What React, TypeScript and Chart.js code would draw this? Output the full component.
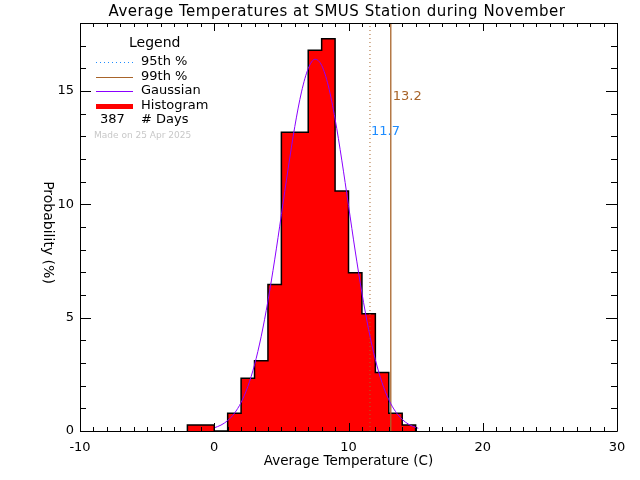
import React, { useEffect, useRef } from "react";
import { Chart, registerables } from "chart.js";

Chart.register(...registerables);

const TITLE = "Average Temperatures at SMUS Station during November";
const X_LABEL = "Average Temperature (C)";
const Y_LABEL = "Probability (%)";

// Histogram bins (left edges) and probability (%) per 1-degree bin
const BIN_LEFT = [-2, -1, 0, 1, 2, 3, 4, 5, 6, 7, 8, 9, 10, 11, 12, 13, 14];
const BIN_WIDTH = 1;
const HIST_VALUES = [0.26, 0.26, 0, 0.78, 2.33, 3.1, 6.46, 13.18, 13.18, 16.8, 17.31, 10.59, 6.98, 5.17, 2.58, 0.78, 0.26];

// Gaussian fit curve
const GAUSS_X = [0, 0.5, 1, 1.5, 2, 2.5, 3, 3.5, 4, 4.5, 5, 5.5, 6, 6.5, 7, 7.5, 8, 8.5, 9, 9.5, 10, 10.5, 11, 11.5, 12, 12.5, 13, 13.5, 14, 14.5, 15, 15.2];
const GAUSS_Y = [0.14, 0.26, 0.46, 0.78, 1.26, 1.96, 2.92, 4.18, 5.74, 7.55, 9.54, 11.56, 13.43, 14.96, 15.99, 16.4, 16.13, 15.22, 13.77, 11.95, 9.95, 7.94, 6.09, 4.47, 3.15, 2.13, 1.38, 0.86, 0.51, 0.29, 0.16, 0.12];

// Percentiles
const P95_POS = 11.6;
const P95_TEXT = "11.7";
const P99_POS = 13.15;
const P99_TEXT = "13.2";
const N_DAYS = "387";
const MADE_ON = "Made on 25 Apr 2025";

const X_TICK_LABELS = [-10, 0, 10, 20, 30];
const Y_TICK_LABELS = [0, 5, 10, 15];

const X_MIN = -10;
const X_MAX = 30;
const Y_MIN = 0;
const Y_MAX = 18;

const FONT = "'DejaVu Sans', sans-serif";
const BROWN = "#a8642a";
const BLUE = "#1e8cff";
const PURPLE = "#8a00ff";

export default function App() {
  const ref = useRef<HTMLCanvasElement | null>(null);

  useEffect(() => {
    const canvas = ref.current;
    if (!canvas) return;

    const histPoints: { x: number; y: number }[] = [{ x: BIN_LEFT[0], y: 0 }];
    BIN_LEFT.forEach((x, i) => histPoints.push({ x, y: HIST_VALUES[i] }));
    const lastEdge = BIN_LEFT[BIN_LEFT.length - 1] + BIN_WIDTH;
    histPoints.push({ x: lastEdge, y: HIST_VALUES[HIST_VALUES.length - 1] });
    histPoints.push({ x: lastEdge, y: 0 });

    const gauss = GAUSS_X.map((x, i) => ({ x, y: GAUSS_Y[i] }));

    const decor = {
      id: "decor",
      afterDraw(chart: any) {
        const ctx = chart.ctx as CanvasRenderingContext2D;
        const area = chart.chartArea;
        const xs = chart.scales.x;
        const ys = chart.scales.y;
        ctx.save();
        // frame
        ctx.strokeStyle = "#000";
        ctx.lineWidth = 1;
        ctx.beginPath();
        ctx.rect(Math.round(area.left) + 0.5, Math.round(area.top) + 0.5, Math.round(area.right - area.left), Math.round(area.bottom - area.top));
        ctx.stroke();
        // ticks (inward, all four sides)
        ctx.beginPath();
        for (let v = X_MIN; v <= X_MAX; v += 1) {
          const px = Math.round(xs.getPixelForValue(v)) + 0.5;
          const len = X_TICK_LABELS.includes(v) ? 8 : 4;
          ctx.moveTo(px, area.bottom);
          ctx.lineTo(px, area.bottom - len);
          ctx.moveTo(px, area.top);
          ctx.lineTo(px, area.top + len);
        }
        for (let v = Y_MIN; v <= Y_MAX; v += 1) {
          const py = Math.round(ys.getPixelForValue(v)) + 0.5;
          const len = Y_TICK_LABELS.includes(v) ? 11 : 6;
          ctx.moveTo(area.left, py);
          ctx.lineTo(area.left + len, py);
          ctx.moveTo(area.right, py);
          ctx.lineTo(area.right - len, py);
        }
        ctx.stroke();

        // title
        ctx.fillStyle = "#000";
        ctx.font = `15px ${FONT}`;
        (ctx as any).letterSpacing = "0.5px";
        ctx.textAlign = "center";
        ctx.textBaseline = "middle";
        ctx.fillText(TITLE, 337, 12);
        (ctx as any).letterSpacing = "0px";

        // y axis title (reads top to bottom)
        ctx.save();
        ctx.translate(47.5, 232.5);
        ctx.rotate(Math.PI / 2);
        ctx.font = `14px ${FONT}`;
        ctx.fillText(Y_LABEL, 0, 0);
        ctx.restore();

        // percentile labels
        ctx.textAlign = "left";
        ctx.font = `13px ${FONT}`;
        ctx.fillStyle = BROWN;
        ctx.fillText(P99_TEXT, xs.getPixelForValue(P99_POS) + 2, 97);
        ctx.fillStyle = BLUE;
        ctx.fillText(P95_TEXT, xs.getPixelForValue(P95_POS) + 1, 132);

        // legend
        ctx.fillStyle = "#000";
        ctx.font = `14px ${FONT}`;
        ctx.fillText("Legend", 129, 43);
        ctx.font = `13px ${FONT}`;
        const lx0 = 96;
        const lx1 = 133;
        const tx = 141;
        // 95th (dotted)
        ctx.fillStyle = BLUE;
        for (let px = lx0; px < lx1; px += 4) ctx.fillRect(px, 62, 1, 1);
        ctx.fillStyle = "#000";
        ctx.fillText("95th %", tx, 62);
        // 99th
        ctx.fillStyle = BROWN;
        ctx.fillRect(lx0, 77, lx1 - lx0, 1);
        ctx.fillStyle = "#000";
        ctx.fillText("99th %", tx, 77);
        // gaussian
        ctx.fillStyle = PURPLE;
        ctx.fillRect(lx0, 91, lx1 - lx0, 1);
        ctx.fillStyle = "#000";
        ctx.fillText("Gaussian", tx, 91);
        // histogram
        ctx.fillStyle = "#ff0000";
        ctx.fillRect(lx0, 104, lx1 - lx0, 5);
        ctx.fillStyle = "#000";
        ctx.fillText("Histogram", tx, 106);
        // days
        ctx.fillText(N_DAYS, 100, 120);
        ctx.fillText("# Days", tx, 120);
        ctx.fillStyle = "#c8c8c8";
        ctx.font = `9px ${FONT}`;
        ctx.fillText(MADE_ON, 94, 136);
        ctx.restore();
      },
    };

    const chart = new Chart(canvas, {
      type: "line",
      data: {
        datasets: [
          {
            label: "Histogram",
            data: histPoints,
            stepped: "before",
            borderColor: "#000",
            borderWidth: 1.5,
            backgroundColor: "#ff0000",
            fill: "origin",
            pointRadius: 0,
            order: 5,
          },
          {
            label: "Gaussian",
            data: gauss,
            borderColor: PURPLE,
            borderWidth: 1,
            cubicInterpolationMode: "monotone",
            fill: false,
            pointRadius: 0,
            order: 1,
          },
          {
            label: "95th %",
            data: [
              { x: P95_POS, y: Y_MIN },
              { x: P95_POS, y: Y_MAX },
            ],
            borderColor: BROWN,
            borderWidth: 1,
            borderDash: [1, 3],
            fill: false,
            pointRadius: 0,
            order: 2,
          },
          {
            label: "99th %",
            data: [
              { x: P99_POS, y: Y_MIN },
              { x: P99_POS, y: Y_MAX },
            ],
            borderColor: BROWN,
            borderWidth: 1.3,
            fill: false,
            pointRadius: 0,
            order: 2,
          },
        ],
      },
      options: {
        responsive: false,
        animation: false,
        devicePixelRatio: 1,
        layout: { padding: { top: 23, right: 23, left: 0, bottom: 0 } },
        plugins: {
          legend: { display: false },
          title: { display: false },
          tooltip: { enabled: false },
        },
        scales: {
          x: {
            type: "linear",
            min: X_MIN,
            max: X_MAX,
            grid: { display: false, drawTicks: false },
            border: { display: false },
            ticks: {
              stepSize: 1,
              autoSkip: false,
              maxRotation: 0,
              padding: 9,
              color: "#000",
              font: { family: FONT, size: 13 },
              callback: (v: any) => (X_TICK_LABELS.includes(Number(v)) ? String(v) : ""),
            },
            title: {
              display: true,
              text: X_LABEL,
              color: "#000",
              font: { family: FONT, size: 13.5 },
              padding: { top: 0, bottom: 10 },
            },
            afterFit: (s: any) => {
              s.height = 49;
            },
          },
          y: {
            type: "linear",
            min: Y_MIN,
            max: Y_MAX,
            grid: { display: false, drawTicks: false },
            border: { display: false },
            ticks: {
              stepSize: 1,
              autoSkip: false,
              padding: 6,
              color: "#000",
              font: { family: FONT, size: 13 },
              callback: (v: any) => (Y_TICK_LABELS.includes(Number(v)) ? String(v) : ""),
            },
            title: { display: false },
            afterFit: (s: any) => {
              s.width = 80;
            },
          },
        },
      },
      plugins: [decor],
    });

    return () => chart.destroy();
  }, []);

  return (
    <div style={{ position: "absolute", left: 0, top: 0, width: 640, height: 480, background: "#fff" }}>
      <canvas ref={ref} width={640} height={480} style={{ display: "block" }} />
    </div>
  );
}
